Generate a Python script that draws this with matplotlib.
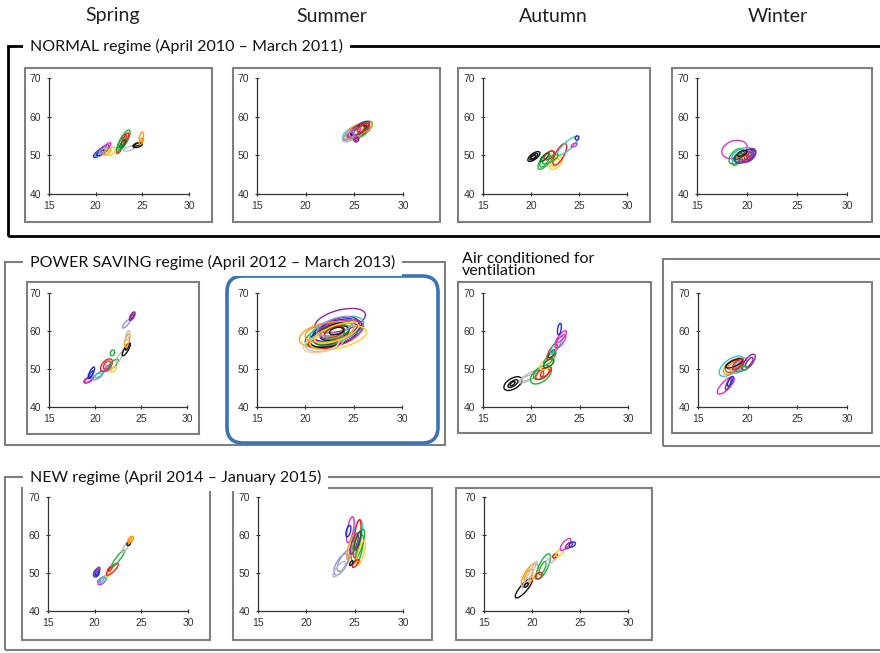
import numpy as np
import matplotlib
matplotlib.use("Agg")
import matplotlib.pyplot as plt
from matplotlib.patches import Ellipse, Rectangle, FancyBboxPatch
from matplotlib.transforms import Affine2D

# each loop: (colour, x1, y1, x2, y2, thickness)
# x = temperature (C), y = relative humidity (%), (x1,y1)-(x2,y2) = long axis of the daily loop
normal_spring = [
    ('blue', 19.8, 49.6, 21.2, 52.0, 1.4), ('purple', 20.2, 50.0, 21.4, 52.6, 1.5),
    ('magenta', 20.6, 50.5, 21.6, 53.2, 1.2), ('cyan', 20.0, 49.8, 21.0, 51.5, 1.0),
    ('blue', 20.1, 50.0, 20.9, 51.2, 0.8), ('lavender', 20.4, 50.4, 21.2, 52.0, 1.0),
    ('orange', 20.8, 50.2, 21.6, 51.5, 1.0), ('yellow', 21.4, 50.0, 22.0, 52.0, 1.4),
    ('red', 22.3, 50.5, 23.2, 55.5, 1.4), ('green', 22.5, 51.5, 23.6, 56.5, 1.8),
    ('green', 22.3, 51.0, 23.0, 54.5, 1.2), ('red', 22.8, 52.5, 23.5, 55.8, 1.0),
    ('darkgreen', 22.6, 52.0, 23.2, 54.0, 0.8), ('gray', 23.0, 51.3, 24.2, 52.2, 1.0),
    ('black', 24.0, 52.3, 25.0, 53.0, 1.1), ('black', 24.1, 52.5, 24.9, 53.1, 0.6),
    ('orange', 24.8, 53.5, 25.0, 56.0, 1.0), ('orange', 24.7, 52.8, 25.1, 54.5, 0.8),
]
normal_summer = [
    ('cyan', 23.8, 54.5, 26.5, 58.0, 2.6), ('red', 24.3, 54.8, 26.3, 57.8, 2.6),
    ('green', 24.5, 54.5, 26.8, 58.5, 3.0), ('blue', 24.7, 55.0, 26.5, 58.2, 2.6),
    ('orange', 24.2, 54.5, 26.0, 57.5, 3.0), ('black', 24.6, 55.5, 26.2, 57.5, 2.0),
    ('yellow', 24.5, 55.0, 25.8, 57.0, 2.0), ('gray', 23.8, 53.8, 25.5, 56.5, 2.4),
    ('purple', 25.0, 53.6, 25.4, 54.6, 1.2), ('purple', 25.1, 53.8, 25.3, 54.4, 0.6),
    ('orange', 25.5, 56.0, 26.8, 58.3, 1.8), ('purple', 24.8, 55.5, 26.5, 58.5, 2.2),
    ('darkgreen', 25.0, 55.5, 26.0, 57.5, 1.6), ('magenta', 24.4, 55.0, 25.6, 57.0, 1.6),
    ('lavender', 23.9, 54.0, 25.0, 56.0, 1.5), ('red', 25.3, 56.2, 26.5, 58.0, 1.5),
]
normal_autumn = [
    ('black', 19.7, 48.6, 20.9, 50.8, 1.6), ('black', 19.9, 48.9, 20.7, 50.4, 1.0),
    ('black', 20.0, 49.2, 20.5, 50.0, 0.6),
    ('green', 20.8, 46.5, 22.3, 51.0, 2.2), ('green', 21.0, 47.0, 21.9, 50.5, 1.6),
    ('red', 21.4, 49.0, 22.4, 51.0, 1.6), ('yellow', 22.0, 46.5, 23.2, 49.5, 2.2),
    ('yellow', 22.2, 47.2, 22.9, 49.0, 1.2), ('red', 22.4, 47.5, 23.6, 53.0, 2.2),
    ('cyan', 22.8, 50.2, 24.9, 54.8, 2.0), ('magenta', 24.2, 52.3, 24.8, 53.0, 0.8),
    ('blue', 24.7, 54.0, 24.9, 55.0, 0.9), ('green', 21.2, 48.0, 22.8, 50.0, 1.4),
    ('darkgreen', 21.0, 48.5, 21.8, 50.5, 1.0),
]
normal_winter = [
    ('magenta', 17.5, 50.5, 20.0, 52.5, 4.5), ('green', 18.3, 48.0, 19.6, 51.5, 2.8),
    ('green', 18.6, 47.5, 19.4, 50.0, 1.6), ('cyan', 18.5, 49.0, 20.5, 51.5, 2.8),
    ('blue', 18.8, 48.5, 20.8, 51.0, 2.8), ('purple', 19.6, 48.5, 20.8, 51.5, 2.6),
    ('purple', 19.8, 49.0, 20.6, 51.0, 1.6), ('purple', 20.0, 49.5, 20.5, 50.7, 0.8),
    ('orange', 19.0, 49.5, 20.0, 51.0, 1.6), ('red', 19.2, 48.5, 20.2, 50.0, 1.2),
    ('black', 19.0, 50.0, 20.0, 51.0, 1.2), ('darkgreen', 18.7, 49.0, 19.5, 50.5, 1.2),
]
saving_spring = [
    ('purple', 18.8, 46.5, 19.8, 47.8, 1.2), ('magenta', 18.9, 46.6, 19.6, 47.5, 0.9),
    ('blue', 19.3, 47.5, 19.9, 50.5, 1.0), ('blue', 19.4, 47.8, 19.8, 49.5, 0.6),
    ('lavender', 19.7, 47.3, 20.8, 48.8, 1.2), ('cyan', 20.0, 47.8, 21.0, 49.5, 1.0),
    ('red', 20.7, 49.5, 21.8, 52.5, 2.2), ('red', 21.0, 50.0, 21.6, 52.0, 1.4),
    ('magenta', 21.1, 49.5, 21.7, 51.0, 1.1), ('green', 21.5, 50.0, 22.5, 52.5, 1.4),
    ('green', 21.8, 53.5, 22.0, 55.0, 1.1), ('yellow', 21.7, 49.3, 22.3, 50.5, 0.9),
    ('gray', 22.3, 51.5, 23.0, 54.5, 0.9), ('black', 23.0, 53.5, 23.8, 56.8, 1.1),
    ('black', 23.3, 55.0, 23.7, 56.5, 0.6), ('orange', 23.3, 55.8, 23.7, 59.2, 1.1),
    ('gray', 23.4, 57.5, 23.7, 60.0, 0.9), ('lavender', 23.0, 60.8, 23.8, 63.0, 0.9),
    ('purple', 23.8, 62.8, 24.3, 65.0, 1.0), ('purple', 23.9, 63.2, 24.2, 64.5, 0.5),
]
saving_summer = [
    ('purple', 21.0, 61.0, 26.2, 64.5, 5.5), ('orange', 19.4, 57.5, 24.5, 60.5, 6.0),
    ('green', 20.0, 57.0, 26.0, 61.5, 5.5), ('red', 20.3, 56.5, 25.8, 61.0, 5.5),
    ('black', 20.5, 57.0, 25.5, 61.0, 5.5), ('cyan', 20.5, 58.0, 26.0, 62.5, 6.0),
    ('blue', 20.8, 58.5, 25.8, 62.0, 5.0), ('magenta', 21.0, 58.0, 26.0, 61.5, 5.5),
    ('yellow', 20.5, 56.5, 26.3, 60.0, 5.5), ('darkgreen', 20.8, 57.5, 24.0, 60.0, 4.5),
    ('black', 21.5, 58.5, 24.5, 60.5, 3.5), ('gray', 20.0, 56.0, 24.0, 58.0, 4.5),
    ('peach', 19.8, 55.5, 23.5, 57.5, 4.0), ('purple', 21.5, 59.0, 25.5, 62.5, 5.0),
    ('green', 22.0, 58.5, 24.5, 61.0, 3.0), ('red', 22.0, 59.0, 24.0, 60.5, 2.5),
    ('orange', 20.0, 58.5, 25.0, 61.0, 5.0), ('lavender', 21.2, 59.5, 25.0, 63.0, 4.0),
    ('black', 22.5, 59.5, 24.0, 60.5, 1.8), ('yellow', 21.0, 57.5, 25.5, 61.5, 4.0),
]
saving_autumn = [
    ('black', 17.2, 44.8, 19.0, 47.5, 2.8), ('black', 17.6, 45.3, 18.6, 47.0, 1.3),
    ('black', 17.8, 45.7, 18.3, 46.6, 0.7),
    ('gray', 18.8, 46.5, 20.8, 49.5, 1.7), ('gray', 19.0, 47.0, 20.5, 48.5, 1.1),
    ('green', 20.0, 46.5, 22.0, 50.5, 3.6), ('green', 20.3, 47.5, 21.2, 49.5, 2.2),
    ('red', 20.5, 47.5, 21.8, 50.0, 2.2), ('red', 21.0, 48.0, 22.0, 50.5, 1.6),
    ('yellow', 20.9, 50.0, 22.2, 52.5, 2.2), ('darkgreen', 21.3, 50.5, 22.3, 52.5, 1.6),
    ('green', 21.3, 51.0, 22.5, 54.5, 1.6), ('red', 21.7, 52.5, 22.6, 56.5, 1.6),
    ('darkgreen', 21.8, 53.0, 22.4, 55.0, 1.0), ('cyan', 22.0, 54.0, 23.2, 58.5, 1.4),
    ('magenta', 22.5, 55.5, 23.5, 59.0, 1.6), ('magenta', 22.6, 57.0, 23.6, 60.0, 1.3),
    ('blue', 22.8, 59.0, 23.0, 62.0, 0.9),
]
saving_winter = [
    ('cyan', 17.2, 48.5, 19.5, 53.0, 3.6), ('orange', 17.6, 49.0, 19.5, 52.5, 3.0),
    ('brown', 17.8, 49.5, 19.3, 52.0, 2.5), ('orange', 18.0, 50.0, 19.2, 51.8, 1.6),
    ('lavender', 18.6, 49.0, 19.8, 52.8, 2.2), ('lavender', 18.8, 49.5, 19.6, 52.2, 1.3),
    ('purple', 19.5, 49.8, 20.7, 53.8, 2.0), ('purple', 19.8, 50.5, 20.5, 53.0, 1.1),
    ('black', 17.8, 50.5, 19.5, 52.5, 1.6), ('green', 18.8, 49.5, 20.0, 50.5, 1.1),
    ('magenta', 17.0, 43.5, 18.6, 47.8, 2.2), ('purple', 17.8, 44.5, 18.3, 47.5, 0.9),
    ('blue', 18.0, 45.5, 18.5, 48.0, 0.9), ('red', 18.5, 50.0, 19.5, 52.5, 1.6),
]
new_spring = [
    ('blue', 20.0, 49.0, 20.4, 51.0, 1.4), ('purple', 20.1, 49.5, 20.5, 51.5, 0.9),
    ('blue', 20.1, 49.3, 20.4, 50.5, 0.6),
    ('magenta', 20.4, 47.0, 21.2, 48.8, 1.3), ('cyan', 20.6, 47.3, 21.3, 49.3, 1.1),
    ('lavender', 20.3, 47.5, 21.0, 48.8, 0.9), ('yellow', 21.2, 49.0, 21.6, 50.5, 0.9),
    ('red', 21.3, 49.5, 22.5, 52.5, 1.3), ('red', 21.4, 50.5, 21.9, 51.8, 0.7),
    ('green', 21.8, 51.5, 23.2, 56.0, 1.1), ('gray', 23.0, 55.5, 23.6, 58.0, 0.9),
    ('black', 23.5, 57.3, 23.8, 58.2, 0.8), ('orange', 23.6, 58.0, 24.1, 59.6, 1.1),
    ('orange', 23.7, 58.3, 24.0, 59.2, 0.6),
]
new_summer = [
    ('lavender', 23.0, 49.5, 24.2, 55.0, 2.6), ('lavender', 23.3, 50.5, 24.5, 56.0, 2.2),
    ('gray', 22.8, 49.0, 24.0, 53.0, 1.6), ('magenta', 24.3, 58.0, 24.8, 64.8, 1.6),
    ('blue', 24.2, 59.5, 24.5, 62.5, 1.1), ('cyan', 24.9, 55.0, 25.6, 64.0, 2.2),
    ('red', 25.0, 54.0, 25.5, 64.0, 1.6), ('green', 24.8, 53.0, 25.9, 61.5, 2.2),
    ('green', 25.2, 52.5, 25.8, 60.0, 1.4), ('orange', 24.3, 53.5, 25.0, 60.0, 1.6),
    ('orange', 24.5, 54.5, 24.9, 58.0, 0.9), ('yellow', 25.3, 52.0, 26.0, 58.5, 1.6),
    ('red', 24.8, 51.5, 25.4, 53.5, 0.9), ('black', 24.5, 52.0, 24.8, 53.2, 0.6),
    ('darkgreen', 25.0, 56.0, 25.6, 61.0, 1.1), ('purple', 24.6, 55.0, 25.3, 60.5, 1.4),
]
new_autumn = [
    ('black', 18.3, 43.5, 20.0, 48.5, 1.9), ('orange', 19.0, 46.5, 20.5, 52.5, 2.6),
    ('orange', 19.3, 47.5, 20.0, 51.0, 1.6), ('gray', 19.0, 46.0, 20.5, 53.0, 0.7),
    ('black', 19.2, 46.3, 19.6, 47.3, 0.7), ('green', 20.6, 48.5, 21.8, 55.0, 2.3),
    ('green', 20.8, 49.5, 21.4, 53.0, 1.2),
    ('red', 20.4, 48.5, 21.0, 50.0, 1.3), ('gray', 21.5, 52.5, 22.5, 54.5, 1.3),
    ('red', 22.2, 54.0, 22.6, 55.0, 0.9), ('yellow', 22.5, 54.5, 23.2, 56.0, 1.3),
    ('magenta', 23.0, 56.0, 24.0, 59.0, 1.6), ('purple', 23.5, 56.5, 24.2, 58.0, 1.1),
    ('blue', 23.9, 57.0, 24.5, 58.0, 1.1),
]

colours = {
    'blue': '#1f2fd0', 'purple': '#8a2a9a', 'magenta': '#e030c0', 'green': '#22b03a',
    'darkgreen': '#0a6a2a', 'red': '#ee2020', 'orange': '#ff9a10', 'yellow': '#ffd020',
    'black': '#111111', 'cyan': '#35c3c8', 'gray': '#bdbdbd', 'lavender': '#9595dd',
    'brown': '#a0662a', 'peach': '#f3c9a2',
}

seasons = ['Spring', 'Summer', 'Autumn', 'Winter']
season_x = [113, 332, 553, 778]
xticks = [15, 20, 25, 30]
yticks = [40, 50, 60, 70]

W, H = 880, 653
fig = plt.figure(figsize=(W / 100, H / 100), dpi=100)
font = 'Lato'


def px(x, y):
    # pixel position (top-left origin) -> inches for dpi_scale_trans
    return x / 100, (H - y) / 100


def frame(x0, y0, x1, y1, color='#7f7f7f', lw=1.5):
    r = Rectangle(px(x0, y1), (x1 - x0) / 100, (y1 - y0) / 100, transform=fig.dpi_scale_trans,
                  fill=False, ec=color, lw=lw)
    fig.add_artist(r)


def panel(loops, x0, y0, x1, y1):
    ax = fig.add_axes([x0 / W, 1 - y1 / H, (x1 - x0) / W, (y1 - y0) / H])
    ax.set_xlim(15, 30)
    ax.set_ylim(40, 70)
    ax.set_xticks(xticks)
    ax.set_yticks(yticks)
    ax.patch.set_alpha(0)
    for s in ['top', 'right']:
        ax.spines[s].set_visible(False)
    for s in ['left', 'bottom']:
        ax.spines[s].set_color('#333333')
        ax.spines[s].set_linewidth(0.9)
    ax.tick_params(direction='inout', length=3, width=0.8, color='#333333',
                   labelsize=7.5, labelcolor='#333333')
    ax.tick_params(axis='x', pad=3.5)
    ax.tick_params(axis='y', pad=4)
    for lab in ax.get_xticklabels() + ax.get_yticklabels():
        lab.set_family('Liberation Sans')
    # x stretch so that loops are drawn in a space where one unit looks the same both ways
    k = ((x1 - x0) / 15) / ((y1 - y0) / 30)
    tr = Affine2D().scale(1 / k, 1) + ax.transData
    for c, xa, ya, xb, yb, t in loops:
        dx, dy = (xb - xa) * k, yb - ya
        length = max(np.hypot(dx, dy), t)
        e = Ellipse(((xa + xb) / 2 * k, (ya + yb) / 2), length, t,
                    angle=np.degrees(np.arctan2(dy, dx)), transform=tr,
                    fill=False, ec=colours[c], lw=1.0)
        ax.add_patch(e)
    return ax


# season headers
for s, x in zip(seasons, season_x):
    fig.text(x / W, 1 - 16 / H, s, ha='center', va='center', fontsize=14,
             family=font, color='#222222')

# NORMAL regime group (black, open to the right)
frame(8, 46, 900, 236, color='black', lw=2)
fig.text(30 / W, 1 - 46 / H, 'NORMAL regime (April 2010 \u2013 March 2011)', ha='left', va='center',
         fontsize=11.5, family=font, color='#111111',
         bbox=dict(fc='white', ec='none', pad=5))

# POWER SAVING regime group
frame(5, 262, 445, 445)
fig.text(30 / W, 1 - 262 / H, 'POWER SAVING regime (April 2012 \u2013 March 2013)', ha='left',
         va='center', fontsize=11.5, family=font, color='#111111',
         bbox=dict(fc='white', ec='none', pad=5))
frame(663, 259, 900, 446)
fig.text(462 / W, 1 - 252 / H, 'Air conditioned for\nventilation', ha='left', va='top',
         fontsize=11.5, family=font, color='#111111', linespacing=0.85)

# NEW regime group
frame(5, 477, 900, 650)
fig.text(30 / W, 1 - 477 / H, 'NEW regime (April 2014 \u2013 January 2015)', ha='left', va='center',
         fontsize=11.5, family=font, color='#111111',
         bbox=dict(fc='white', ec='none', pad=5))

# panel frames
for f in [(25, 68, 212, 222), (233, 68, 440, 222), (458, 68, 650, 222), (672, 68, 872, 222),
          (27, 282, 199, 434), (458, 282, 651, 433), (672, 282, 872, 433),
          (22, 488, 210, 640), (233, 488, 432, 640), (456, 488, 652, 640)]:
    frame(*f)

# blue highlight round the power saving summer panel
hl = FancyBboxPatch(px(227, 443), 2.11, 1.67, boxstyle='round,pad=0,rounding_size=0.16',
                    transform=fig.dpi_scale_trans, fill=False, ec='#3c72b8', lw=2.6)
fig.add_artist(hl)

panel(normal_spring, 49, 78, 189, 194)
panel(normal_summer, 257, 78, 403, 194)
panel(normal_autumn, 483, 78, 627, 194)
panel(normal_winter, 697, 78, 847, 194)
panel(saving_spring, 49, 293, 187, 407)
panel(saving_summer, 257, 293, 402, 407)
panel(saving_autumn, 483, 293, 628, 407)
panel(saving_winter, 698, 293, 847, 407)
panel(new_spring, 48, 497, 188, 611)
panel(new_summer, 258, 497, 403, 611)
panel(new_autumn, 484, 497, 628, 611)

fig.savefig('out.png', dpi=100)
